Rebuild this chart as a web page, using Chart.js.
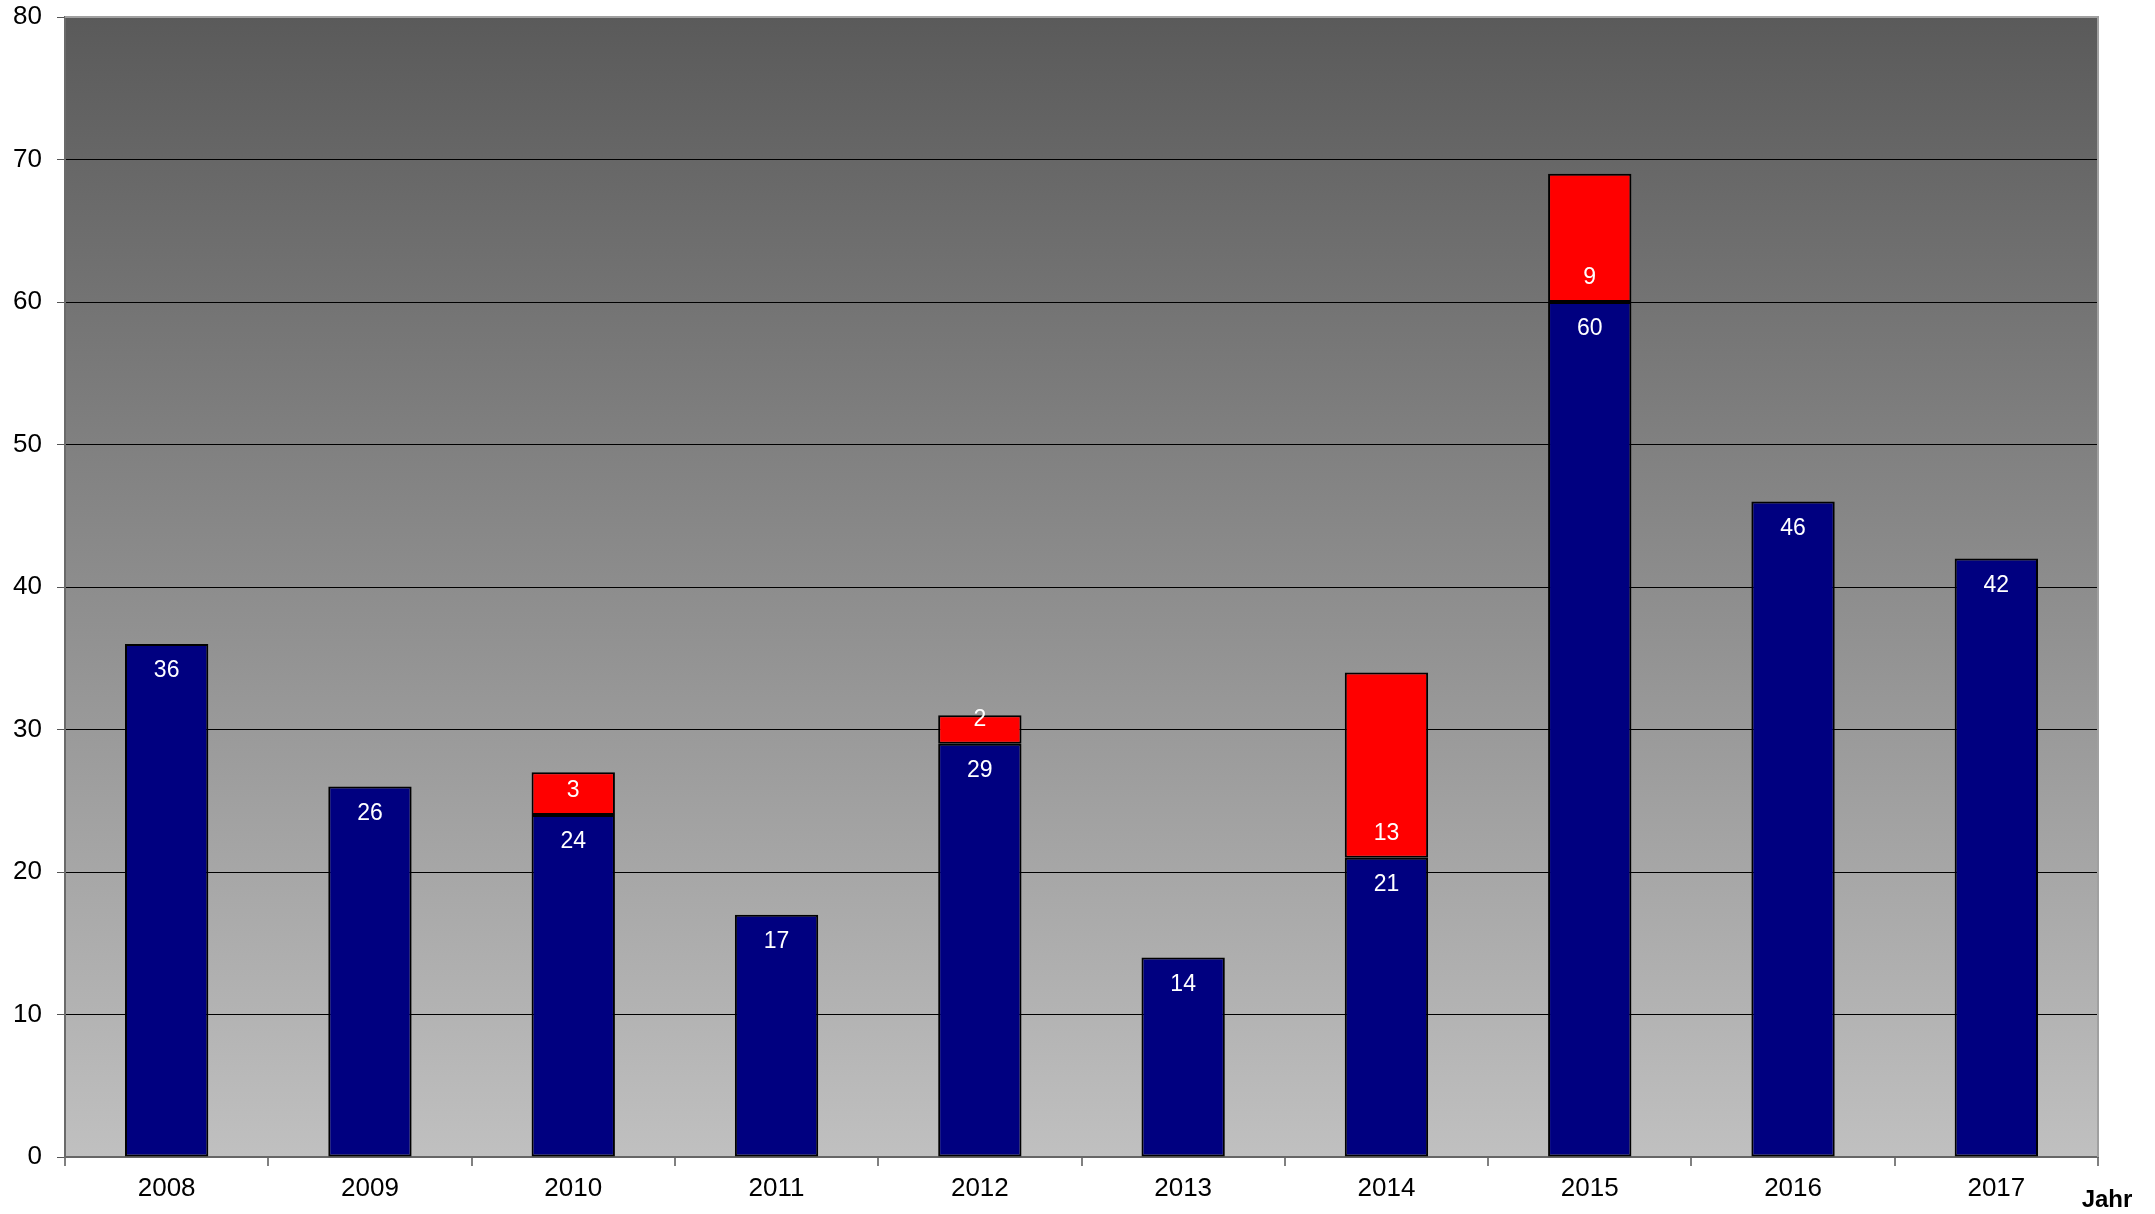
<!DOCTYPE html>
<html>
<head>
<meta charset="utf-8">
<script src="https://cdn.jsdelivr.net/npm/chart.js@4.4.1/dist/chart.umd.min.js"></script>
<style>
  html, body { margin: 0; padding: 0; background: #ffffff; }
  #wrap { width: 2155px; height: 1214px; position: relative; }
</style>
</head>
<body>
<div id="wrap"><canvas id="chart" width="2155" height="1214"></canvas></div>
<script>
// Jahre auf der x-Achse
const years = ['2008', '2009', '2010', '2011', '2012', '2013', '2014', '2015', '2016', '2017'];
// untere (blaue) Teilsäule
const blueValues = [36, 26, 24, 17, 29, 14, 21, 60, 46, 42];
// obere (rote) Teilsäule, null = kein Anteil
const redValues = [null, null, 3, null, 2, null, 13, 9, null, null];
// Skala der y-Achse
const yMin = 0;
const yMax = 80;
const yStep = 10;
const axisLabel = 'Jahr';

const FONT = '"Liberation Sans", Arial, sans-serif';

// Hintergrundverlauf der Zeichenfläche
const plotBackground = {
  id: 'plotBackground',
  beforeDraw(chart) {
    const { ctx, chartArea: a } = chart;
    const g = ctx.createLinearGradient(0, a.top, 0, a.bottom);
    g.addColorStop(0, '#5a5a5a');
    g.addColorStop(1, '#c0c0c0');
    ctx.save();
    ctx.fillStyle = g;
    ctx.fillRect(a.left, a.top, a.right - a.left, a.bottom - a.top);
    ctx.restore();
  },
  afterDraw(chart) {
    const { ctx, chartArea: a } = chart;
    ctx.save();
    // heller Rahmen oben und rechts
    ctx.strokeStyle = '#a0a0a0';
    ctx.lineWidth = 2;
    ctx.beginPath();
    ctx.moveTo(a.left, a.top);
    ctx.lineTo(a.right, a.top);
    ctx.lineTo(a.right, a.bottom);
    ctx.stroke();
    // Achsenbeschriftung rechts unten
    ctx.fillStyle = '#000000';
    ctx.font = 'bold 24px ' + FONT;
    ctx.textAlign = 'center';
    ctx.textBaseline = 'alphabetic';
    ctx.fillText(axisLabel, a.right + 9, a.bottom + 50);
    ctx.restore();
  }
};

// Wertbeschriftungen in den Säulen
const barValues = {
  id: 'barValues',
  afterDatasetsDraw(chart) {
    const { ctx } = chart;
    ctx.save();
    ctx.fillStyle = '#ffffff';
    ctx.font = '23px ' + FONT;
    ctx.textAlign = 'center';
    ctx.textBaseline = 'middle';
    chart.data.datasets.forEach((ds, di) => {
      const meta = chart.getDatasetMeta(di);
      meta.data.forEach((bar, i) => {
        const v = ds.data[i];
        if (v === null || v === undefined) return;
        const y = di === 0 ? bar.y + 27 : bar.base - 24;
        ctx.fillText(String(v), bar.x, y);
      });
    });
    ctx.restore();
  }
};

new Chart(document.getElementById('chart'), {
  type: 'bar',
  data: {
    labels: years,
    datasets: [
      {
        label: 'blau',
        data: blueValues,
        backgroundColor: '#000080',
        borderColor: '#000000',
        borderWidth: 2,
        borderSkipped: false,
        categoryPercentage: 1,
        barPercentage: 0.41
      },
      {
        label: 'rot',
        data: redValues,
        backgroundColor: '#ff0000',
        borderColor: '#000000',
        borderWidth: 2,
        borderSkipped: false,
        categoryPercentage: 1,
        barPercentage: 0.41
      }
    ]
  },
  options: {
    responsive: false,
    animation: false,
    devicePixelRatio: 1,
    layout: { padding: { left: 0, top: 17, right: 57, bottom: 0 } },
    plugins: {
      legend: { display: false },
      tooltip: { enabled: false }
    },
    scales: {
      x: {
        stacked: true,
        offset: true,
        grid: {
          offset: true,
          drawOnChartArea: false,
          drawTicks: true,
          tickLength: 9,
          tickColor: '#808080',
          lineWidth: 2
        },
        border: { display: true, color: '#666666', width: 2 },
        ticks: {
          color: '#000000',
          font: { family: FONT, size: 26 },
          padding: 7,
          maxRotation: 0
        },
        afterFit(scale) { scale.height = 57; }
      },
      y: {
        stacked: true,
        min: yMin,
        max: yMax,
        grid: {
          color: (c) => (c.tick && c.tick.value === yMax ? 'rgba(0,0,0,0)' : '#000000'),
          lineWidth: 1,
          drawTicks: true,
          tickLength: 8,
          tickColor: '#555555'
        },
        border: { display: true, color: '#6a6a6a', width: 2 },
        ticks: {
          stepSize: yStep,
          color: '#000000',
          font: { family: FONT, size: 26 },
          padding: 15
        },
        afterFit(scale) {
          scale.width = 65;
          scale.paddingTop = 0;
          scale.paddingBottom = 0;
        }
      }
    }
  },
  plugins: [plotBackground, barValues]
});
</script>
</body>
</html>
